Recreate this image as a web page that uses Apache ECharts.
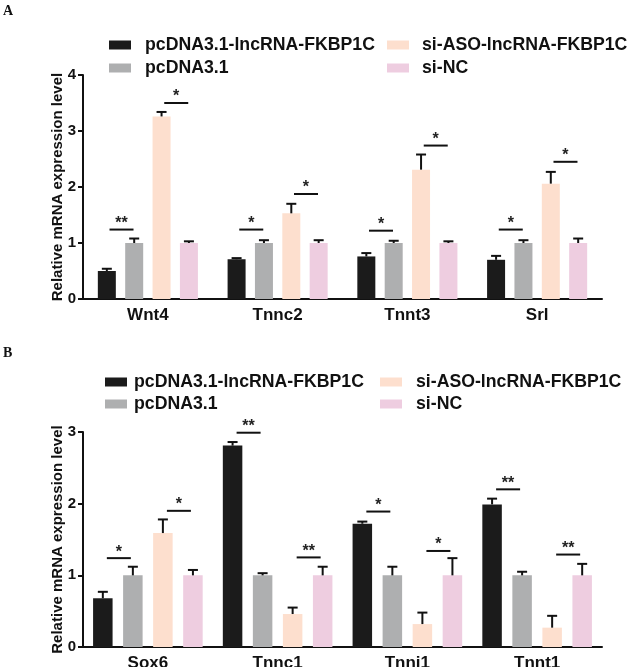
<!DOCTYPE html>
<html>
<head>
<meta charset="utf-8">
<script src="https://cdn.jsdelivr.net/npm/echarts@6/dist/echarts.min.js"></script>
<style>html,body{margin:0;padding:0;background:#fff}#c{width:630px;height:667px}</style>
</head>
<body>
<div id="c"></div>
<script>
// ---- data ----
const seriesNames = ['pcDNA3.1-lncRNA-FKBP1C', 'pcDNA3.1', 'si-ASO-lncRNA-FKBP1C', 'si-NC'];
const colors = ['#1b1b1b', '#aeafb0', '#fddfce', '#eecde0'];

const categoriesA = ['Wnt4', 'Tnnc2', 'Tnnt3', 'Srl'];
const A_pcLnc = [0.50, 0.71, 0.76, 0.70];
const A_pcLncErr = [0.04, 0.02, 0.06, 0.07];
const A_pc = [1.0, 1.0, 1.0, 1.0];
const A_pcErr = [0.08, 0.05, 0.04, 0.05];
const A_aso = [3.26, 1.53, 2.31, 2.06];
const A_asoErr = [0.08, 0.17, 0.27, 0.21];
const A_nc = [1.0, 1.0, 1.0, 1.0];
const A_ncErr = [0.03, 0.05, 0.03, 0.08];
// significance: [category, pair(0 = bars 0-1, 1 = bars 2-3), height, label]
const A_sigCat = [0, 0, 1, 1, 2, 2, 3, 3];
const A_sigPair = [0, 1, 0, 1, 0, 1, 0, 1];
const A_sigY = [1.24, 3.50, 1.24, 1.875, 1.22, 2.74, 1.24, 2.45];
const A_sigLabel = ['**', '*', '*', '*', '*', '*', '*', '*'];
const A_ticks = [0, 1, 2, 3, 4];

const categoriesB = ['Sox6', 'Tnnc1', 'Tnni1', 'Tnnt1'];
const B_pcLnc = [0.68, 2.81, 1.72, 1.99];
const B_pcLncErr = [0.09, 0.05, 0.03, 0.08];
const B_pc = [1.0, 1.0, 1.0, 1.0];
const B_pcErr = [0.12, 0.03, 0.12, 0.05];
const B_aso = [1.59, 0.46, 0.32, 0.27];
const B_asoErr = [0.19, 0.09, 0.16, 0.165];
const B_nc = [1.0, 1.0, 1.0, 1.0];
const B_ncErr = [0.075, 0.12, 0.24, 0.16];
const B_sigCat = [0, 0, 1, 1, 2, 2, 3, 3];
const B_sigPair = [0, 1, 0, 1, 0, 1, 0, 1];
const B_sigY = [1.24, 1.90, 2.99, 1.25, 1.89, 1.34, 2.20, 1.29];
const B_sigLabel = ['*', '*', '**', '**', '*', '*', '**', '**'];
const B_ticks = [0, 1, 2, 3];

// ---- layout constants ----
const FONT = '"Liberation Sans", Arial, Helvetica, sans-serif';
const SERIF = '"Liberation Serif", "Times New Roman", serif';
const BW = [18, 19.5];      // bar widths per panel
const BG = [0.52, 0.54];    // bar gaps per panel (fraction)

function barOffset(panel, k) {
  return (k - 1.5) * BW[panel] * (1 + BG[panel]);
}

function errData(vals, errs) {
  const out = [];
  vals.forEach(function (v, k) {
    v.forEach(function (val, c) { out.push([c, k, val, val + errs[k][c]]); });
  });
  return out;
}

function makeErrRender(panel) {
  return function (params, api) {
    const c = api.value(0), k = api.value(1), v = api.value(2), e = api.value(3);
    const base = api.coord([c, v]);
    const top = api.coord([c, e]);
    const x = base[0] + barOffset(panel, k);
    const st = { stroke: '#111', lineWidth: 2 };
    return {
      type: 'group',
      children: [
        { type: 'line', shape: { x1: x, y1: base[1], x2: x, y2: top[1] }, style: st },
        { type: 'line', shape: { x1: x - 5, y1: top[1], x2: x + 5, y2: top[1] }, style: st }
      ]
    };
  };
}

function makeSigRender(panel, labels) {
  return function (params, api) {
    const c = api.value(0), p = api.value(1), y = api.value(2);
    const pt = api.coord([c, y]);
    const x1 = pt[0] + barOffset(panel, 2 * p);
    const x2 = pt[0] + barOffset(panel, 2 * p + 1);
    const mid = (x1 + x2) / 2 + 1;
    return {
      type: 'group',
      children: [
        { type: 'line', shape: { x1: mid - 12, y1: pt[1], x2: mid + 12, y2: pt[1] }, style: { stroke: '#111', lineWidth: 2 } },
        { type: 'text', x: mid, y: pt[1] + 2, style: { text: labels[params.dataIndex], font: 'bold 16px ' + FONT, fill: '#222', textAlign: 'center', textVerticalAlign: 'bottom' } }
      ]
    };
  };
}

function sigData(cats, pairs, ys) {
  return cats.map(function (c, i) { return [c, pairs[i], ys[i]]; });
}

const axisLineStyle = { color: '#111', width: 2 };

function xAxisCfg(cats, gridIndex) {
  return {
    type: 'category', gridIndex: gridIndex, data: cats,
    axisLine: { lineStyle: axisLineStyle },
    axisTick: { alignWithLabel: true, length: 5, lineStyle: axisLineStyle },
    axisLabel: { color: '#111', fontFamily: FONT, fontWeight: 'bold', fontSize: 17, margin: 8 },
    splitLine: { show: false }
  };
}
function yAxisCfg(ticks, gridIndex) {
  return {
    type: 'value', gridIndex: gridIndex, min: ticks[0], max: ticks[ticks.length - 1], interval: 1,
    name: 'Relative mRNA expression level', nameLocation: 'middle', nameGap: 18,
    nameMoveOverlap: false,
    nameTextStyle: { color: '#111', fontFamily: FONT, fontWeight: 'bold', fontSize: 15 },
    axisLine: { show: true, lineStyle: axisLineStyle },
    axisTick: { show: true, length: 5, lineStyle: axisLineStyle },
    axisLabel: { color: '#111', fontFamily: FONT, fontWeight: 'bold', fontSize: 15, margin: 7 },
    splitLine: { show: false }
  };
}

const series = [];
const panelVals = [
  [[A_pcLnc, A_pc, A_aso, A_nc], [A_pcLncErr, A_pcErr, A_asoErr, A_ncErr]],
  [[B_pcLnc, B_pc, B_aso, B_nc], [B_pcLncErr, B_pcErr, B_asoErr, B_ncErr]]
];
[0, 1].forEach(function (p) {
  const vals = panelVals[p][0];
  vals.forEach(function (v, k) {
    series.push({
      type: 'bar', name: seriesNames[k], xAxisIndex: p, yAxisIndex: p, data: v,
      barWidth: BW[p], barGap: (BG[p] * 100) + '%',
      itemStyle: { color: colors[k] }, silent: true
    });
  });
  series.push({
    type: 'custom', xAxisIndex: p, yAxisIndex: p, data: errData(vals, panelVals[p][1]),
    encode: { x: 0, y: 2 }, renderItem: makeErrRender(p), silent: true, z: 5
  });
});
series.push({
  type: 'custom', xAxisIndex: 0, yAxisIndex: 0, data: sigData(A_sigCat, A_sigPair, A_sigY),
  encode: { x: 0, y: 2 }, renderItem: makeSigRender(0, A_sigLabel), silent: true, z: 5
});
series.push({
  type: 'custom', xAxisIndex: 1, yAxisIndex: 1, data: sigData(B_sigCat, B_sigPair, B_sigY),
  encode: { x: 0, y: 2 }, renderItem: makeSigRender(1, B_sigLabel), silent: true, z: 5
});

function legendCfg(names, left, top, gap, pad) {
  return {
    orient: 'vertical', left: left, top: top, padding: 0, data: names,
    itemWidth: 22, itemHeight: 9, itemGap: gap, icon: 'rect', selectedMode: false,
    textStyle: { color: '#111', fontFamily: FONT, fontWeight: 'bold', fontSize: 17.7, lineHeight: 20, padding: [0, 0, 0, pad] }
  };
}

const option = {
  animation: false,
  backgroundColor: '#fff',
  title: [
    { text: 'A', left: 3, top: 4, padding: 0, textStyle: { fontFamily: SERIF, fontWeight: 'bold', fontSize: 14, color: '#111' } },
    { text: 'B', left: 3, top: 346, padding: 0, textStyle: { fontFamily: SERIF, fontWeight: 'bold', fontSize: 14, color: '#111' } }
  ],
  legend: [
    legendCfg([seriesNames[0], seriesNames[1]], 109, 35, 3, 9),
    legendCfg([seriesNames[2], seriesNames[3]], 387, 35, 3, 8),
    legendCfg([seriesNames[0], seriesNames[1]], 105, 372, 2, 2),
    legendCfg([seriesNames[2], seriesNames[3]], 380, 372, 2, 9)
  ],
  grid: [
    { left: 83, right: 28, top: 75, bottom: 368, outerBoundsMode: 'none', containLabel: false },
    { left: 83, right: 28, top: 432, bottom: 20, outerBoundsMode: 'none', containLabel: false }
  ],
  xAxis: [xAxisCfg(categoriesA, 0), xAxisCfg(categoriesB, 1)],
  yAxis: [yAxisCfg(A_ticks, 0), yAxisCfg(B_ticks, 1)],
  series: series
};

const chart = echarts.init(document.getElementById('c'), null, { renderer: 'canvas' });
chart.setOption(option);
</script>
</body>
</html>
